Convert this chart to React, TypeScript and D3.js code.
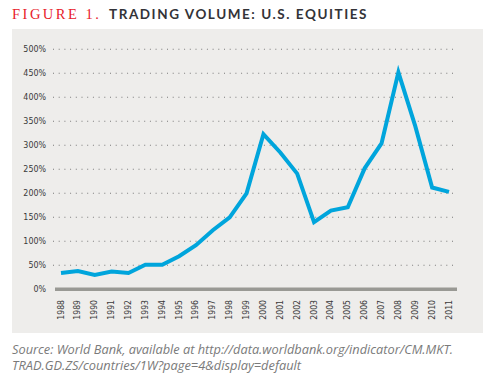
import React from "react";
import * as d3 from "d3";

const years = ["1988","1989","1990","1991","1992","1993","1994","1995","1996","1997","1998","1999","2000","2001","2002","2003","2004","2005","2006","2007","2008","2009","2010","2011"];
const volume = [34, 38, 30, 37, 34, 51, 51, 69, 92, 123, 150, 200, 323, 285, 241, 140, 164, 171, 252, 304, 452, 340, 212, 203];
const yTicks = [0, 50, 100, 150, 200, 250, 300, 350, 400, 450, 500];

export default function App() {
  const W = 491, H = 376;
  const x = d3.scalePoint<string>().domain(years).range([61, 449]);
  const y = d3.scaleLinear().domain([0, 500]).range([289.3, 49.3]);
  const line = d3.line<number>().x((_, i) => x(years[i])!).y(d => y(d));
  const axisFont = "'DejaVu Sans Condensed', 'DejaVu Sans', sans-serif";
  return (
    <svg width={W} height={H} style={{ position: "absolute", left: 0, top: 0 }}>
      <rect x={0} y={0} width={W} height={H} fill="#ffffff" />
      <text x={12} y={19} fontFamily="'Liberation Serif', serif" fontSize={14.5} fill="#e8202a" letterSpacing={2.5}>FIGURE 1.</text>
      <text x={109} y={19} fontFamily="Lato, sans-serif" fontWeight={700} fontSize={13.5} fill="#333338" letterSpacing={1.55}>TRADING VOLUME: U.S. EQUITIES</text>
      <rect x={12} y={29} width={471} height={304} fill="#eeedeb" />
      {yTicks.map(t => (
        <g key={t}>
          {t > 0 && (
            <line x1={53} x2={457} y1={y(t)} y2={y(t)} stroke="#7a7a7a" strokeWidth={1.1} strokeDasharray="1 4.7" />
          )}
          <text x={46} y={y(t)} dy="0.35em" textAnchor="end" fontFamily={axisFont} fontSize={8.8} fill="#3a3a3a">{t}%</text>
        </g>
      ))}
      <line x1={55} x2={457} y1={y(0)} y2={y(0)} stroke="#999994" strokeWidth={3.5} />
      {years.map(yr => (
        <text key={yr} transform={`translate(${x(yr)! - 0.5},300) rotate(-90)`} textAnchor="end" dy="0.35em" fontFamily={axisFont} fontSize={8.6} fill="#3a3a3a">{yr}</text>
      ))}
      <path d={line(volume)!} fill="none" stroke="#00a5dc" strokeWidth={4} strokeLinejoin="miter" />
      <text x={12} y={354} fontFamily="'Open Sans', sans-serif" fontStyle="italic" fontSize={12.2} fill="#7a7a7a" textLength={441} lengthAdjust="spacingAndGlyphs">Source: World Bank, available at http://data.worldbank.org/indicator/CM.MKT.</text>
      <text x={12} y={370} fontFamily="'Open Sans', sans-serif" fontStyle="italic" fontSize={12.2} fill="#7a7a7a" textLength={289} lengthAdjust="spacingAndGlyphs">TRAD.GD.ZS/countries/1W?page=4&amp;display=default</text>
    </svg>
  );
}
